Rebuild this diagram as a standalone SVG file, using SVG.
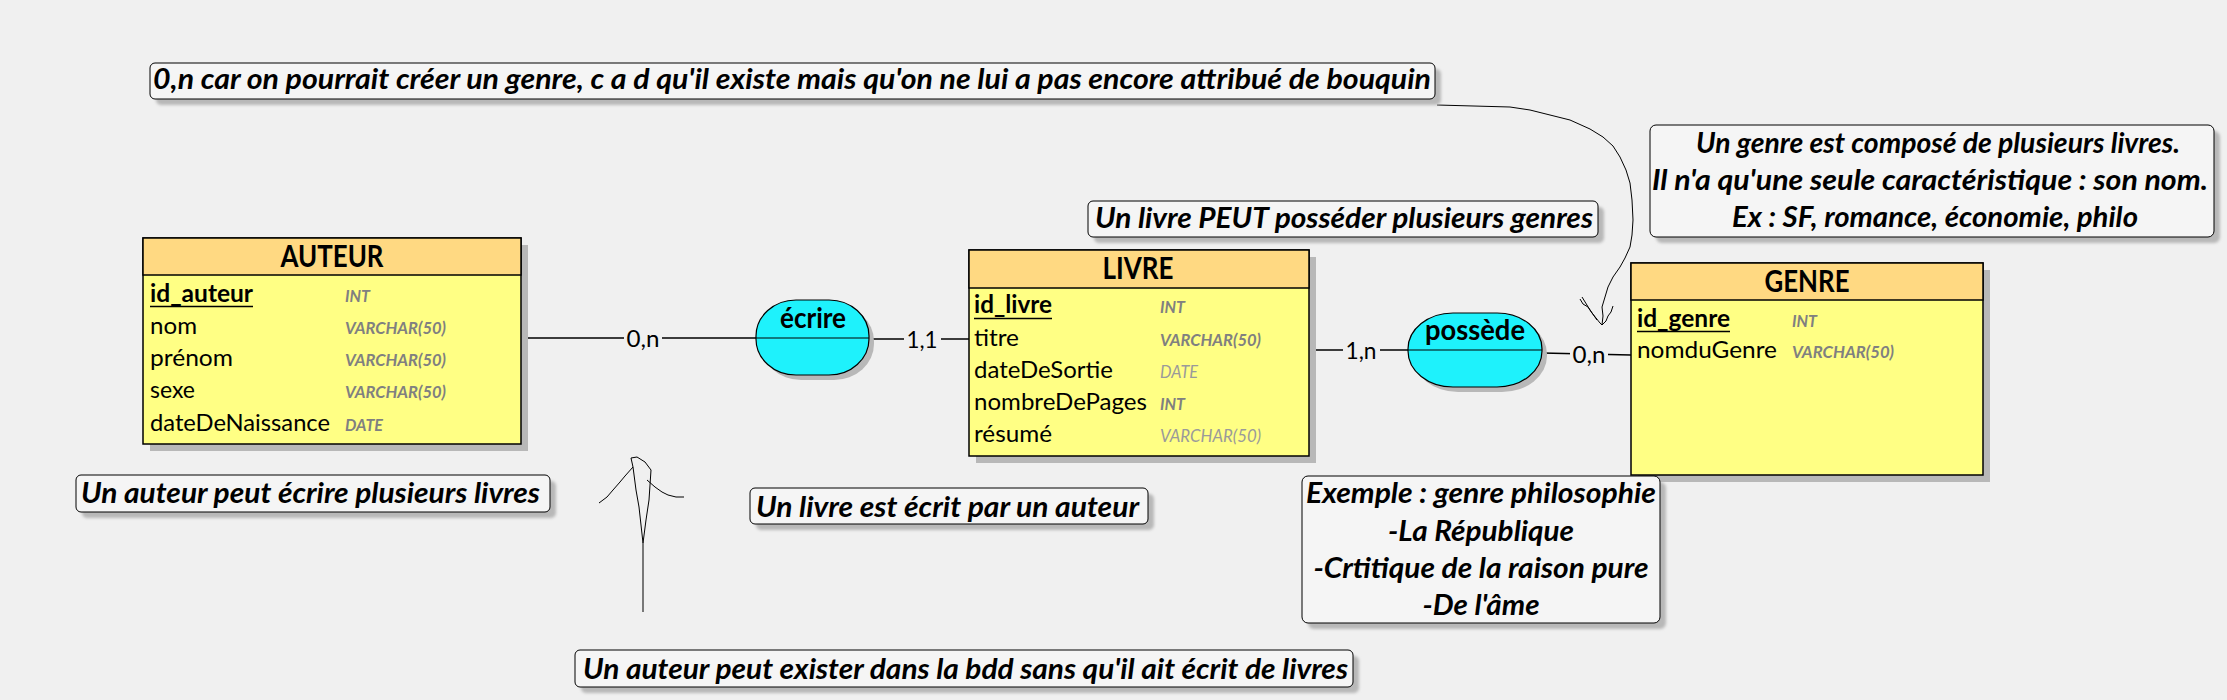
<svg xmlns="http://www.w3.org/2000/svg" width="2227" height="700" viewBox="0 0 2227 700">
<style>
  .bg{fill:#f0f0f0}
  .shadow{fill:#b8b8b8}
  .hdr{fill:#ffd982;stroke:#000;stroke-width:1.5}
  .body{fill:#ffff84;stroke:#000;stroke-width:1.5}
  .assoc{fill:#1ef2fc;stroke:#000;stroke-width:1.2}
  .sep{stroke:#000;stroke-width:1.2}
  .note{fill:#f5f5f5;stroke:#000;stroke-width:1}
  .conn{stroke:#000;stroke-width:1.3;fill:none}
  .hand{stroke:#000;stroke-width:1;fill:none;stroke-linejoin:round}
  text{font-family:Lato,"Liberation Sans",sans-serif;fill:#000}
  .title{font-size:30px;font-weight:bold;text-anchor:middle}
  .attr{font-size:24px}
  .key{font-size:24px;font-weight:bold}
  .type{font-size:17px;font-weight:bold;font-style:italic;fill:#808080}
  .type2{font-size:17px;font-style:italic;fill:#9a9a9a}
  .card{font-size:23px;text-anchor:middle}
  .alabel{font-size:29px;font-weight:bold;text-anchor:middle}
  .nt{font-size:29px;font-weight:bold;font-style:italic}
  .ntc{font-size:29px;font-weight:bold;font-style:italic;text-anchor:middle}
</style>
<defs>
  <filter id="blur" x="-5%" y="-20%" width="110%" height="140%"><feGaussianBlur stdDeviation="1.5"/></filter>
</defs>
<rect class="bg" x="0" y="0" width="2227" height="700"/>

<!-- connectors -->
<g id="connectors">
  <line class="conn" x1="521" y1="338" x2="756" y2="338"/>
  <line class="conn" x1="869" y1="339" x2="969" y2="339"/>
  <line class="conn" x1="1309" y1="350" x2="1408" y2="350"/>
  <line class="conn" x1="1542" y1="353" x2="1631" y2="355"/>
  <rect class="bg" x="624" y="327" width="38" height="24"/>
  <text class="card" x="643" y="347" textLength="33" lengthAdjust="spacingAndGlyphs">0,n</text>
  <rect class="bg" x="904" y="328" width="37" height="24"/>
  <text class="card" x="922" y="348" textLength="31" lengthAdjust="spacingAndGlyphs">1,1</text>
  <rect class="bg" x="1343" y="339" width="37" height="24"/>
  <text class="card" x="1361" y="359" textLength="31" lengthAdjust="spacingAndGlyphs">1,n</text>
  <rect class="bg" x="1570" y="342" width="38" height="24"/>
  <text class="card" x="1589" y="363" textLength="33" lengthAdjust="spacingAndGlyphs">0,n</text>
  <!-- hand-drawn curved arrow -->
  <path class="hand" d="M1437,105 L1510,107 L1530,110 L1570,120 L1590,129 L1603,137 L1613,146 L1620,157 L1626,170 L1630,183 L1632,200 L1633,220 L1632,235 L1630,247 L1625,258 L1620,267 L1613,277 L1608,287 L1605,297 L1602,307 L1603,316 L1602,325"/>
  <path class="hand" d="M1580,299 L1583,304 L1588,307 L1592,313 L1596,318 L1600,323 L1602,325 M1582,297 L1590,310 L1597,320 M1613,306 L1611,312 L1608,316 L1606,321 L1602,325"/>
  <!-- hand-drawn vertical arrow -->
  <path class="hand" d="M643,612 L643,543 L646,520 L649,500 L651,470 L645,462 L637,457 L631,458 L633,467 L636,490 L639,507 L643,543"/>
  <path class="hand" d="M633,467 L625,476 L620,482 L613,490 L607,497 L599,503 M647,480 L655,487 L662,492 L668,495 L676,497 L684,497"/>
</g>

<!-- AUTEUR -->
<g id="auteur">
  <rect class="shadow" x="150" y="245" width="378" height="206"/>
  <rect class="body" x="143" y="238" width="378" height="206"/>
  <rect class="hdr" x="143" y="238" width="378" height="37"/>
  <text class="title" x="332" y="267" textLength="103" lengthAdjust="spacingAndGlyphs">AUTEUR</text>
  <text class="key" x="150" y="302" textLength="103" lengthAdjust="spacingAndGlyphs">id_auteur</text>
  <line x1="150" y1="306.5" x2="253" y2="306.5" stroke="#000" stroke-width="1.5"/>
  <text class="attr" x="150" y="334" textLength="47" lengthAdjust="spacingAndGlyphs">nom</text>
  <text class="attr" x="150" y="366" textLength="83" lengthAdjust="spacingAndGlyphs">prénom</text>
  <text class="attr" x="150" y="398" textLength="45" lengthAdjust="spacingAndGlyphs">sexe</text>
  <text class="attr" x="150" y="431" textLength="180" lengthAdjust="spacingAndGlyphs">dateDeNaissance</text>
  <text class="type" x="345" y="302" textLength="25" lengthAdjust="spacingAndGlyphs">INT</text>
  <text class="type" x="345" y="334" textLength="101" lengthAdjust="spacingAndGlyphs">VARCHAR(50)</text>
  <text class="type" x="345" y="366" textLength="101" lengthAdjust="spacingAndGlyphs">VARCHAR(50)</text>
  <text class="type" x="345" y="398" textLength="101" lengthAdjust="spacingAndGlyphs">VARCHAR(50)</text>
  <text class="type" x="345" y="431" textLength="38" lengthAdjust="spacingAndGlyphs">DATE</text>
</g>

<!-- écrire -->
<g id="ecrire">
  <rect class="shadow" x="761" y="305" width="113" height="75" rx="40" ry="36"/>
  <rect class="assoc" x="756" y="300" width="113" height="75" rx="40" ry="36"/>
  <line class="sep" x1="756" y1="338" x2="869" y2="338"/>
  <text class="alabel" x="813" y="328" textLength="66" lengthAdjust="spacingAndGlyphs">écrire</text>
</g>

<!-- LIVRE -->
<g id="livre">
  <rect class="shadow" x="976" y="257" width="340" height="206"/>
  <rect class="body" x="969" y="250" width="340" height="206"/>
  <rect class="hdr" x="969" y="250" width="340" height="38"/>
  <text class="title" x="1138" y="279" textLength="71" lengthAdjust="spacingAndGlyphs">LIVRE</text>
  <text class="key" x="974" y="313" textLength="78" lengthAdjust="spacingAndGlyphs">id_livre</text>
  <line x1="974" y1="318.5" x2="1052" y2="318.5" stroke="#000" stroke-width="1.5"/>
  <text class="attr" x="974" y="346" textLength="45" lengthAdjust="spacingAndGlyphs">titre</text>
  <text class="attr" x="974" y="378" textLength="139" lengthAdjust="spacingAndGlyphs">dateDeSortie</text>
  <text class="attr" x="974" y="410" textLength="173" lengthAdjust="spacingAndGlyphs">nombreDePages</text>
  <text class="attr" x="974" y="442" textLength="78" lengthAdjust="spacingAndGlyphs">résumé</text>
  <text class="type" x="1160" y="313" textLength="25" lengthAdjust="spacingAndGlyphs">INT</text>
  <text class="type" x="1160" y="346" textLength="101" lengthAdjust="spacingAndGlyphs">VARCHAR(50)</text>
  <text class="type2" x="1160" y="378" textLength="38" lengthAdjust="spacingAndGlyphs">DATE</text>
  <text class="type" x="1160" y="410" textLength="25" lengthAdjust="spacingAndGlyphs">INT</text>
  <text class="type2" x="1160" y="442" textLength="101" lengthAdjust="spacingAndGlyphs">VARCHAR(50)</text>
</g>

<!-- possède -->
<g id="possede">
  <rect class="shadow" x="1413" y="318" width="134" height="74" rx="45" ry="36"/>
  <rect class="assoc" x="1408" y="313" width="134" height="74" rx="45" ry="36"/>
  <line class="sep" x1="1408" y1="350" x2="1542" y2="350"/>
  <text class="alabel" x="1475" y="340" textLength="100" lengthAdjust="spacingAndGlyphs">possède</text>
</g>

<!-- GENRE -->
<g id="genre">
  <rect class="shadow" x="1638" y="270" width="352" height="212"/>
  <rect class="body" x="1631" y="263" width="352" height="212"/>
  <rect class="hdr" x="1631" y="263" width="352" height="37"/>
  <text class="title" x="1807" y="292" textLength="85" lengthAdjust="spacingAndGlyphs">GENRE</text>
  <text class="key" x="1637" y="327" textLength="93" lengthAdjust="spacingAndGlyphs">id_genre</text>
  <line x1="1637" y1="331.5" x2="1730" y2="331.5" stroke="#000" stroke-width="1.5"/>
  <text class="attr" x="1637" y="358" textLength="140" lengthAdjust="spacingAndGlyphs">nomduGenre</text>
  <text class="type" x="1792" y="327" textLength="25" lengthAdjust="spacingAndGlyphs">INT</text>
  <text class="type" x="1792" y="358" textLength="102" lengthAdjust="spacingAndGlyphs">VARCHAR(50)</text>
</g>

<!-- notes -->
<g id="note-top">
  <rect class="shadow" x="156" y="69" width="1285" height="36" rx="5" filter="url(#blur)"/>
  <rect class="note" x="150" y="63" width="1285" height="36" rx="5"/>
  <text class="nt" x="153" y="89" textLength="1278" lengthAdjust="spacingAndGlyphs">0,n car on pourrait créer un genre, c a d qu'il existe mais qu'on ne lui a pas encore attribué de bouquin</text>
</g>
<g id="note-livre-genres">
  <rect class="shadow" x="1094" y="207" width="510" height="36" rx="5" filter="url(#blur)"/>
  <rect class="note" x="1088" y="201" width="510" height="36" rx="5"/>
  <text class="nt" x="1095" y="228" textLength="498" lengthAdjust="spacingAndGlyphs">Un livre PEUT posséder plusieurs genres</text>
</g>
<g id="note-genre">
  <rect class="shadow" x="1656" y="131" width="564" height="112" rx="6" filter="url(#blur)"/>
  <rect class="note" x="1650" y="125" width="564" height="112" rx="6"/>
  <text class="ntc" x="1938" y="153" textLength="484" lengthAdjust="spacingAndGlyphs">Un genre est composé de plusieurs livres.</text>
  <text class="ntc" x="1930" y="190" textLength="556" lengthAdjust="spacingAndGlyphs">Il n'a qu'une seule caractéristique : son nom.</text>
  <text class="ntc" x="1935" y="227" textLength="406" lengthAdjust="spacingAndGlyphs">Ex : SF, romance, économie, philo</text>
</g>
<g id="note-auteur">
  <rect class="shadow" x="82" y="481" width="474" height="37" rx="5" filter="url(#blur)"/>
  <rect class="note" x="76" y="475" width="474" height="37" rx="5"/>
  <text class="nt" x="81" y="503" textLength="459" lengthAdjust="spacingAndGlyphs">Un auteur peut écrire plusieurs livres</text>
</g>
<g id="note-livre">
  <rect class="shadow" x="756" y="494" width="398" height="36" rx="5" filter="url(#blur)"/>
  <rect class="note" x="750" y="488" width="398" height="36" rx="5"/>
  <text class="nt" x="756" y="517" textLength="383" lengthAdjust="spacingAndGlyphs">Un livre est écrit par un auteur</text>
</g>
<g id="note-exemple">
  <rect class="shadow" x="1308" y="482" width="358" height="147" rx="6" filter="url(#blur)"/>
  <rect class="note" x="1302" y="476" width="358" height="147" rx="6"/>
  <text class="ntc" x="1481" y="503" textLength="350" lengthAdjust="spacingAndGlyphs">Exemple : genre philosophie</text>
  <text class="ntc" x="1481" y="541" textLength="186" lengthAdjust="spacingAndGlyphs">-La République</text>
  <text class="ntc" x="1481" y="578" textLength="335" lengthAdjust="spacingAndGlyphs">-Crtitique de la raison pure</text>
  <text class="ntc" x="1481" y="615" textLength="117" lengthAdjust="spacingAndGlyphs">-De l'âme</text>
</g>
<g id="note-bdd">
  <rect class="shadow" x="581" y="656" width="778" height="37" rx="5" filter="url(#blur)"/>
  <rect class="note" x="575" y="650" width="778" height="37" rx="5"/>
  <text class="nt" x="583" y="679" textLength="765" lengthAdjust="spacingAndGlyphs">Un auteur peut exister dans la bdd sans qu'il ait écrit de livres</text>
</g>
</svg>
